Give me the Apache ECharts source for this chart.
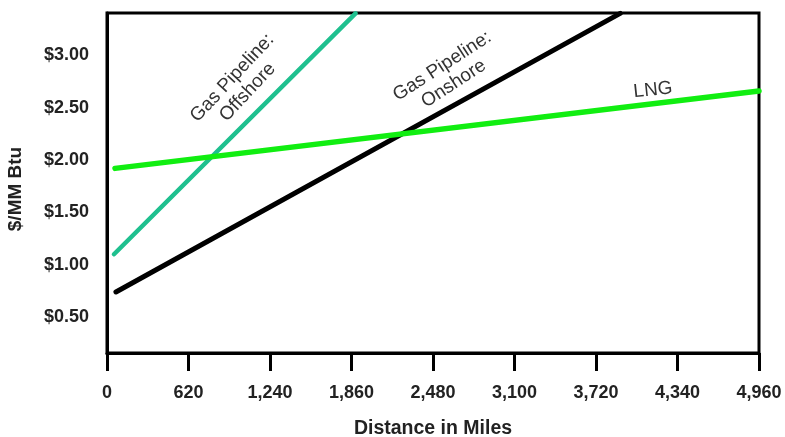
<!DOCTYPE html>
<html>
<head>
<meta charset="utf-8">
<script src="https://cdn.jsdelivr.net/npm/echarts@6/dist/echarts.min.js"></script>
<style>
  html, body { margin: 0; padding: 0; background: #fff; }
  #chart { width: 785px; height: 437px; }
</style>
</head>
<body>
<div id="chart"></div>
<script>
// Transport cost vs. distance for natural gas delivery options
const xTicks = [0, 620, 1240, 1860, 2480, 3100, 3720, 4340, 4960];
const yTicks = [0.5, 1.0, 1.5, 2.0, 2.5, 3.0];

const offshoreMiles = [53, 1891];
const offshoreCost  = [1.10, 3.40];

const onshoreMiles = [68, 3904];
const onshoreCost  = [0.74, 3.40];

const lngMiles = [61, 4960];
const lngCost  = [1.92, 2.66];

const pairs = (xs, ys) => xs.map((x, i) => [x, ys[i]]);

const FONT = 'Liberation Sans, Arial, sans-serif';

const chart = echarts.init(document.getElementById('chart'), null, { renderer: 'canvas' });

const lineSeries = (name, data, color, width) => ({
  name,
  type: 'line',
  data,
  symbol: 'none',
  clip: true,
  lineStyle: { color, width, cap: 'round' },
  z: name === 'LNG' ? 4 : 3
});

chart.setOption({
  animation: false,
  backgroundColor: '#fff',
  grid: {
    left: 107, right: 26, top: 13, bottom: 84,
    containLabel: false,
    outerBoundsMode: 'none',
    show: true, borderColor: '#000', borderWidth: 3, backgroundColor: 'transparent'
  },
  xAxis: {
    type: 'value',
    min: xTicks[0],
    max: xTicks[xTicks.length - 1],
    interval: 620,
    name: 'Distance in Miles',
    nameLocation: 'middle',
    nameGap: 66,
    nameTextStyle: { fontFamily: FONT, fontWeight: 'bold', fontSize: 19.5, color: '#222' },
    axisLine: { lineStyle: { color: '#000', width: 3 } },
    axisTick: { show: true, inside: false, length: 18, lineStyle: { color: '#000', width: 3 } },
    axisLabel: {
      margin: 31,
      fontFamily: FONT, fontWeight: 'bold', fontSize: 18, color: '#222',
      formatter: v => v.toLocaleString('en-US')
    },
    splitLine: { show: false }
  },
  yAxis: {
    type: 'value',
    min: 0.157,
    max: 3.404,
    name: '$/MM Btu',
    nameLocation: 'middle',
    nameRotate: 90,
    nameGap: 82,
    nameTextStyle: {
      fontFamily: FONT, fontWeight: 'bold', fontSize: 19, color: '#222',
      padding: [0, 12, 0, 0]
    },
    axisLine: { show: true, lineStyle: { color: '#000', width: 3 } },
    axisTick: { show: false },
    axisLabel: {
      customValues: yTicks,
      margin: 18,
      fontFamily: FONT, fontWeight: 'bold', fontSize: 18, color: '#222',
      formatter: v => '$' + v.toFixed(2)
    },
    splitLine: { show: false }
  },
  series: [
    lineSeries('Gas Pipeline: Onshore', pairs(onshoreMiles, onshoreCost), '#000000', 5),
    lineSeries('Gas Pipeline: Offshore', pairs(offshoreMiles, offshoreCost), '#1fc08f', 4.5),
    lineSeries('LNG', pairs(lngMiles, lngCost), '#11ee11', 5.5)
  ],
  graphic: [
    {
      type: 'text', x: 240, y: 85, rotation: 47 * Math.PI / 180, z: 10,
      style: {
        text: 'Gas Pipeline:\nOffshore', fontFamily: FONT, fontSize: 19, lineHeight: 21,
        fill: '#333', align: 'center', verticalAlign: 'middle'
      }
    },
    {
      type: 'text', x: 448, y: 75, rotation: 33 * Math.PI / 180, z: 10,
      style: {
        text: 'Gas Pipeline:\nOnshore', fontFamily: FONT, fontSize: 19, lineHeight: 21,
        fill: '#333', align: 'center', verticalAlign: 'middle'
      }
    },
    {
      type: 'text', x: 653, y: 90, rotation: 6 * Math.PI / 180, z: 10,
      style: {
        text: 'LNG', fontFamily: FONT, fontSize: 19,
        fill: '#333', align: 'center', verticalAlign: 'middle'
      }
    }
  ]
});
</script>
</body>
</html>
